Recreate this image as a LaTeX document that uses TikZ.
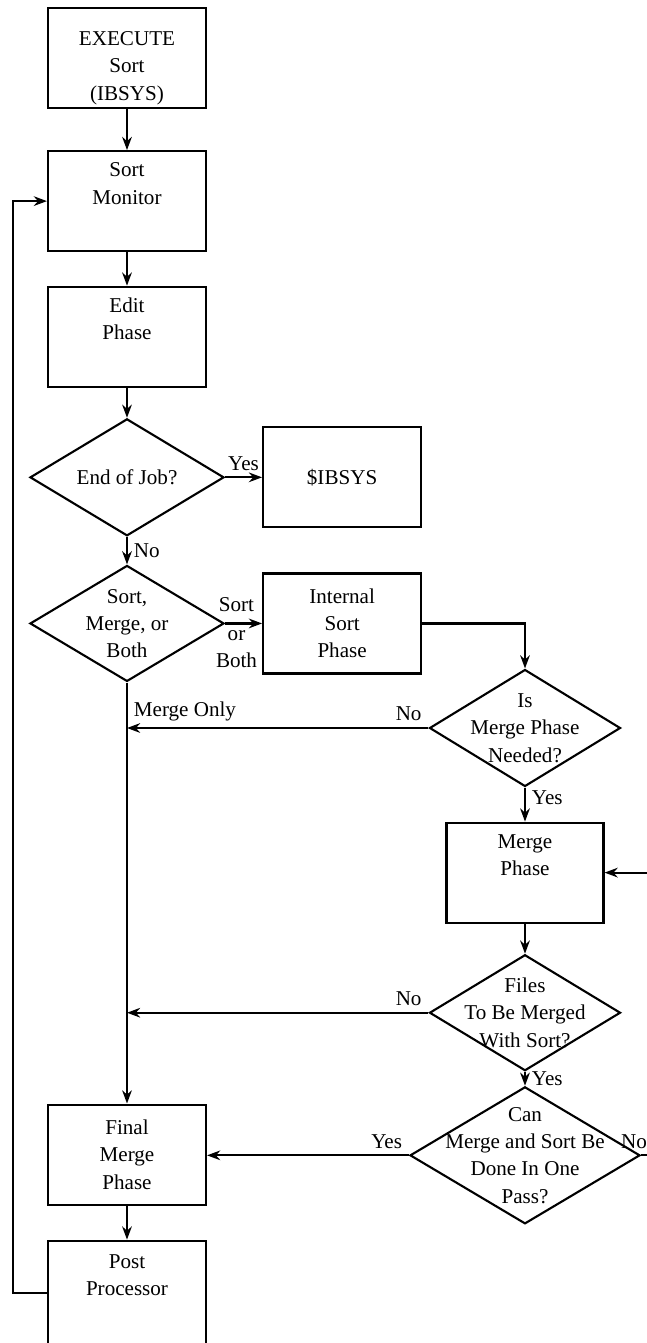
\documentclass[tikz,border=0pt]{standalone}
\usepackage{fontspec}
\setmainfont{Liberation Serif}
\usepackage{tikz}
\usetikzlibrary{positioning, arrows.meta, shapes.geometric}

\begin{document}
\begin{tikzpicture}[
    >={Stealth[length=7.5pt, width=5.5pt]},
    node distance=0.7cm,
    font=\fontsize{12}{15.5}\selectfont,
    box/.style={rectangle, draw, line width=1.2pt, minimum width=3.16cm,
        minimum height=2cm, align=center, inner sep=2pt},
    decision/.style={diamond, draw, line width=1.2pt, align=center,
        inner sep=-3cm},
    flow/.style={->, line width=1.2pt},
]

% ── Page frame ──
\useasboundingbox (0,0) rectangle (12.94,-26.86);
\clip (0,0) rectangle (12.94,-26.86);

% ══════════════════════════════════════════════
% Main column
% ══════════════════════════════════════════════
\node[box] (exec) at (2.54,-1.16) {\strut\\[-7pt]EXECUTE\\Sort\\(IBSYS)};
\node[box, below=0.82cm of exec] (monitor) {Sort\\Monitor\\\strut};
\node[box, below=0.67cm of monitor] (edit) {Edit\\Phase\\\strut};
\node[decision, minimum width=3.88cm, minimum height=2.34cm,
    below=0.6cm of edit] (endjob) {End of Job?};
\node[decision, minimum width=3.88cm, minimum height=2.32cm,
    below=0.55cm of endjob] (choice) {Sort,\\Merge, or\\Both};
\node[box, below=8.42cm of choice] (final) {Final\\Merge\\Phase};
\node[box, minimum height=2.1cm, below=0.68cm of final] (post)
    {Post\\Processor\\\strut};

% ══════════════════════════════════════════════
% Side branches
% ══════════════════════════════════════════════
\node[box, right=0.74cm of endjob] (ibsys) {\$IBSYS};
\node[box, right=0.74cm of choice] (internal) {Internal\\Sort\\Phase};

% ══════════════════════════════════════════════
% Merge column (right)
% ══════════════════════════════════════════════
\node[decision, minimum width=3.82cm, minimum height=2.34cm]
    at (10.5,-14.56) (needed) {Is\\Merge Phase\\Needed?};
\node[box, minimum width=3.14cm, below=0.68cm of needed] (merge)
    {Merge\\Phase\\\strut};
\node[decision, minimum width=3.82cm, minimum height=2.32cm,
    below=0.6cm of merge] (files) {Files\\To Be Merged\\With Sort?};
\node[decision, minimum width=4.6cm, minimum height=2.74cm,
    below=0.28cm of files] (can) {Can\\Merge and Sort Be\\Done In One\\Pass?};

% ══════════════════════════════════════════════
% Arrows
% ══════════════════════════════════════════════
\draw[flow] (exec) -- (monitor);
\draw[flow] (monitor) -- (edit);
\draw[flow] (edit) -- (endjob);
\draw[flow] (endjob) -- (ibsys) node[midway, above] {Yes};
\draw[flow] (endjob) -- (choice) node[midway, right] {No};
\draw[flow] (choice) -- (internal)
    node[midway, above=3pt, xshift=-4pt] {Sort}
    node[midway, below, xshift=-4pt, align=center] {or\\Both};
\draw[flow] (internal.east) -| (needed.north);

% joins on the merge-only line
\coordinate (mjoin) at (choice.south |- needed.west);
\coordinate (fjoin) at (choice.south |- files.west);
\draw[flow] (choice.south) -- (final.north);
\draw[flow] (needed.west) -- (mjoin)
    node[pos=0, above left] {No}
    node[pos=1, above right] {Merge Only};

\draw[flow] (needed) -- (merge) node[pos=0.3, right] {Yes};
\draw[flow] (merge) -- (files);
\draw[flow] (files.west) -- (fjoin) node[pos=0, above left] {No};
\draw[flow] (files) -- (can) node[midway, right] {Yes};
\draw[flow] (can.west) -- (can.west -| final.east)
    node[pos=0, above left] {Yes};
\draw[flow] (can.east) -- ++(0.5,0) node[pos=0, above, xshift=-4pt] {No}
    |- (merge.east);

\draw[flow] (final) -- (post);
\draw[flow] (post.west) -- ++(-0.68,0) |- (monitor.west);

\end{tikzpicture}
\end{document}
